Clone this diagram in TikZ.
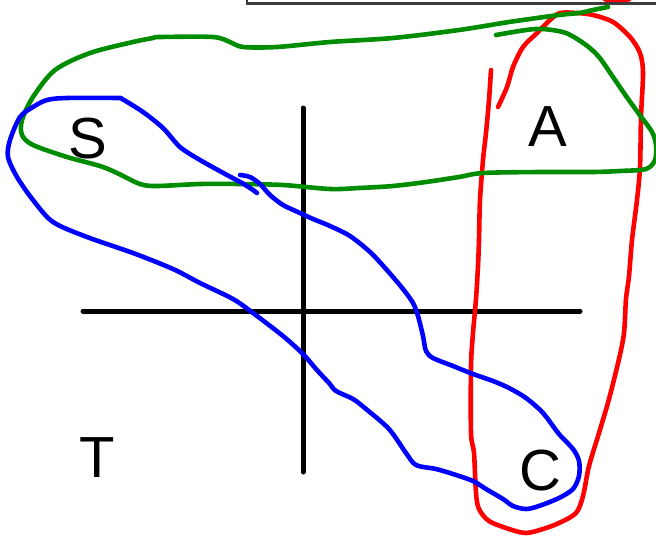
\documentclass[tikz,border=0pt]{standalone}
\usepackage{fontspec}
\setmainfont{Liberation Sans}
\begin{document}
\begin{tikzpicture}[x=1pt,y=-1pt,
  axis/.style={line width=5pt,line cap=round,black},
  ink/.style={line width=4.6pt,line cap=round,line join=round},
  letter/.style={inner sep=0pt,font=\fontsize{58}{58}\selectfont}]
\definecolor{gr}{RGB}{0,140,0}
\definecolor{rd}{RGB}{255,0,0}
\definecolor{bl}{RGB}{0,0,255}
\definecolor{topline}{RGB}{60,60,60}
\useasboundingbox (0,0) rectangle (656,536);
\begin{scope}
\clip (0,0) rectangle (656,536);
\fill[rd] (617,-1) ellipse [x radius=15pt, y radius=4.5pt];
\draw[topline,line width=2.2pt] (247,0) -- (247,3.5) -- (660,3.5);
\end{scope}
% axes
\coordinate (vt) at (303,108);
\coordinate (vb) at (303,472);
\coordinate (hl) at (83,311);
\coordinate (hr) at (580,311);
\draw[axis] (vt) -- (vb);
\draw[axis] (hl) -- (hr);
% letters
\node[letter] (S) at (88,139) {S};
\node[letter] (A) at (548,127) {A};
\node[letter] (T) at (97,458) {T};
\node[letter] (C) at (540,471) {C};
% red
\draw[ink,rd] plot[smooth,tension=0.5] coordinates {
 (491,70) (489,100) (486,133) (483,160) (480,200) (479,240) (478,266)
 (476,299) (473,333) (471,366) (471,433) (474,453) (476,493) (479,509)
 (489,521) (509,529) (526,533) (543,529) (559,523) (576,513) (583,496)
 (589,466) (599,433) (609,399) (619,359) (624,333) (626,299) (629,276)
 (632,240) (637,200) (640,167) (641,117) (643,73) (640,53) (630,37)
 (613,22) (593,15) (577,13) (560,13) (550,20) (537,33) (523,47)
 (513,67) (507,87) (498,107)};
% green
\draw[ink,gr] plot[smooth,tension=0.5] coordinates {
 (496,35) (526,30) (543,29) (566,33) (586,45) (599,57) (613,77) (626,96)
 (639,114) (652,132) (656,145) (655,160) (646,169) (620,171) (593,172)
 (540,172) (483,173) (459,177) (426,182) (393,186) (359,188) (330,189)
 (283,185) (240,184) (200,184) (157,186) (140,184) (117,173) (100,166)
 (67,157) (33,145) (22,135) (22,120) (33,97) (55,70) (90,53) (133,42)
 (153,38) (160,37) (213,37) (230,42) (243,47) (277,47) (330,42)
 (393,38) (459,30) (509,22) (559,15) (579,13) (593,10) (608,7)};
% blue
\draw[ink,bl] plot[smooth,tension=0.5] coordinates {
 (240,175) (250,177) (260,184) (270,195) (283,205) (300,213) (313,219)
 (330,226) (350,236) (370,252) (386,269) (403,289) (413,303) (418,316)
 (423,336) (426,351) (433,358) (453,366) (473,374) (493,381) (509,388)
 (526,398) (543,413) (559,434) (573,449) (579,461) (579,476) (573,489)
 (559,498) (539,506) (526,509) (513,506) (503,499) (486,489) (473,481)
 (453,474) (436,469) (416,465) (406,453) (389,429) (366,409) (353,399)
 (336,391) (329,383) (316,369) (303,354) (283,336) (253,313) (233,299)
 (200,283) (173,269) (133,253) (87,237) (53,222) (33,200) (17,177)
 (8,157) (10,140) (20,117) (33,107) (47,100) (67,98) (117,98) (122,99)
 (143,112) (163,128) (180,147) (200,160) (227,175) (242,183) (253,190) (257,193)};
\end{tikzpicture}
\end{document}
